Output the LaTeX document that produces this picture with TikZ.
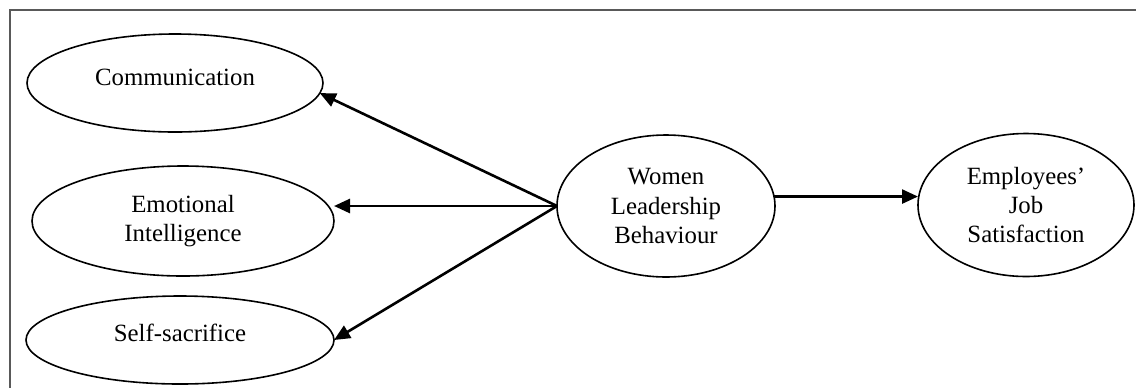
\documentclass[tikz,border=0pt]{standalone}
\usepackage{fontspec}
\setmainfont{Liberation Serif}
\usetikzlibrary{shapes.geometric,arrows.meta}
\tikzset{
  oval/.style={ellipse, draw=black, line width=0.8pt, inner sep=0pt, outer sep=0pt,
    align=center, font=\fontsize{12.4}{14.6}\selectfont},
  link/.style={line width=1.3pt, -{Triangle[length=8pt,width=7pt]}},
}
\begin{document}
\begin{tikzpicture}[x=0.5pt,y=-0.5pt]
\useasboundingbox (0,0) rectangle (1136,387);
\fill[white] (0,0) rectangle (1136,387);
\draw[black!65, line width=0.9pt] (10,420) -- (10,10) -- (1160,10);
\node[oval, minimum width=148pt, minimum height=49pt, text depth=6pt] (C) at (175,83) {Communication};
\node[oval, minimum width=151pt, minimum height=55pt] (EI) at (183,221) {Emotional\\Intelligence};
\node[oval, minimum width=154pt, minimum height=44pt, text depth=7pt] (SS) at (180,340) {Self-sacrifice};
\node[oval, minimum width=109pt, minimum height=71pt] (W) at (666,206) {Women\\Leadership\\Behaviour};
\node[oval, minimum width=108pt, minimum height=71.5pt] (E) at (1026,205) {Employees'\\Job\\Satisfaction};
\coordinate (eiT) at (W.west -| EI.east);
\coordinate (eT) at (W.5 -| E.west);
\draw[link] (W.west) -- (C.-4);
\draw[link] (W.west) -- (eiT);
\draw[link] (W.west) -- (SS.east);
\draw[link] (W.5) -- (eT);
\end{tikzpicture}
\end{document}
